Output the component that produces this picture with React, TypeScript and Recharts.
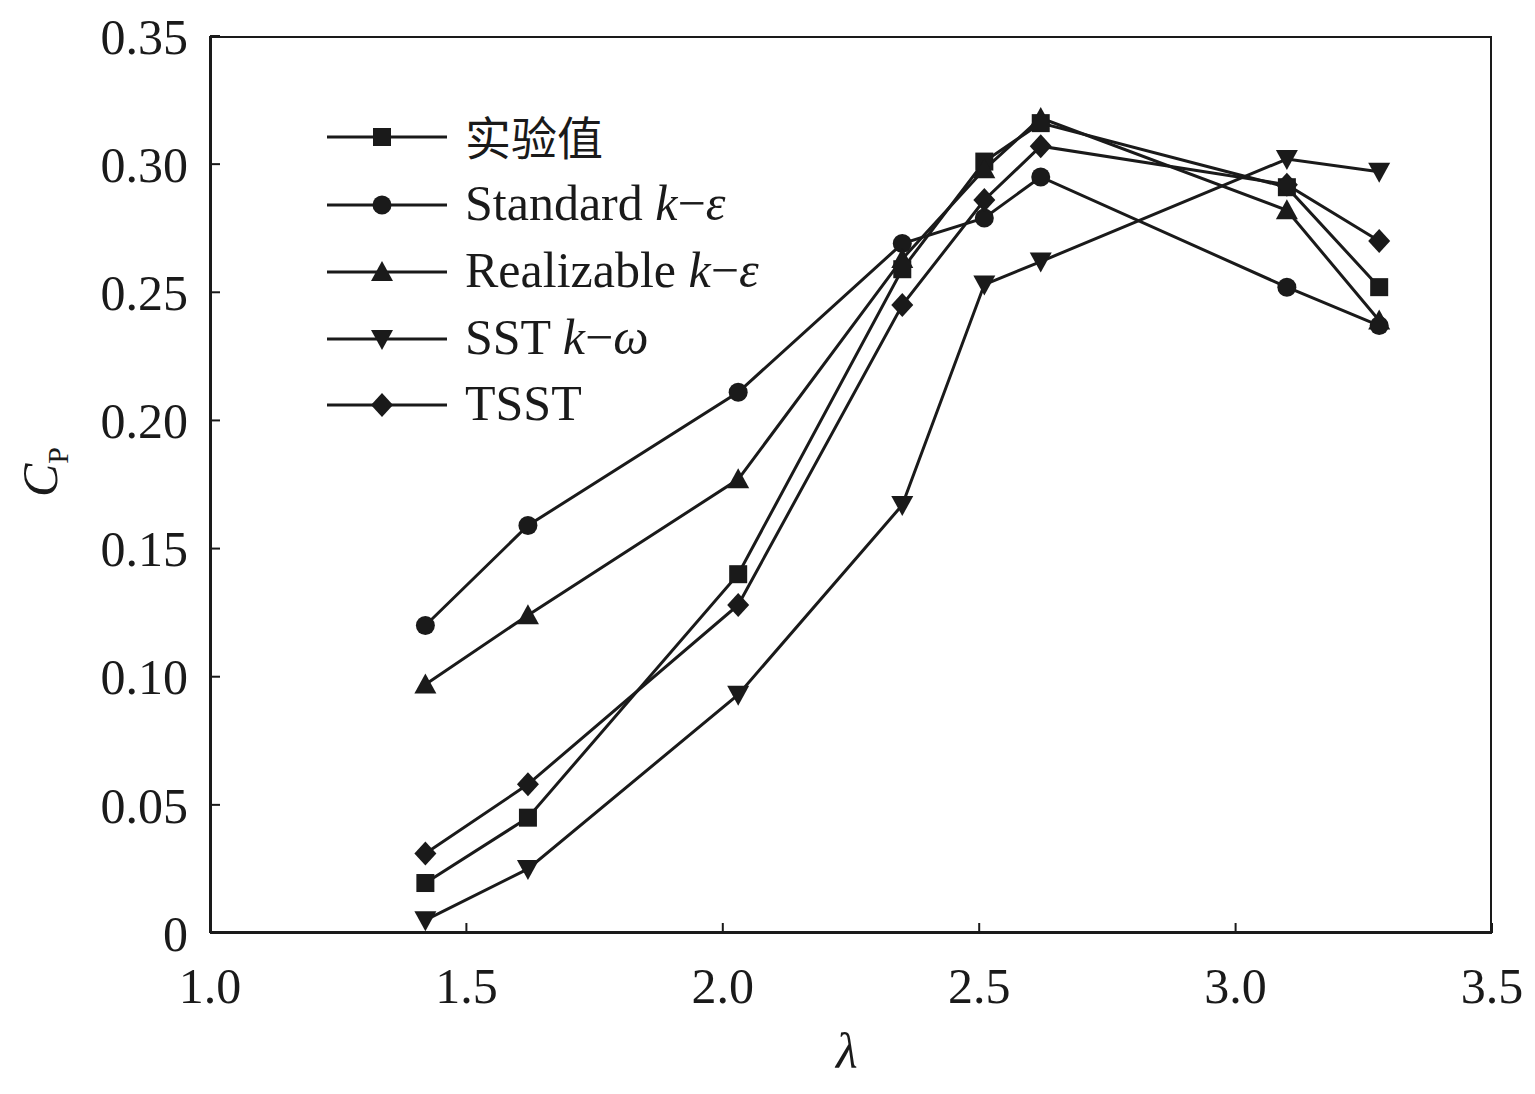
import React from 'react';
import { LineChart, Line, XAxis, YAxis } from 'recharts';

const lambdas = [1.42, 1.62, 2.03, 2.35, 2.51, 2.62, 3.1, 3.28];
const experiment = [0.0195, 0.045, 0.14, 0.259, 0.301, 0.316, 0.291, 0.252];
const standardKE = [0.12, 0.159, 0.211, 0.269, 0.279, 0.295, 0.252, 0.237];
const realizableKE = [0.097, 0.124, 0.177, 0.263, 0.298, 0.318, 0.282, 0.239];
const sstKW = [0.005, 0.025, 0.093, 0.167, 0.253, 0.262, 0.302, 0.297];
const tsst = [0.031, 0.058, 0.128, 0.245, 0.286, 0.307, 0.292, 0.27];
const xTicks = [1.0, 1.5, 2.0, 2.5, 3.0, 3.5];
const yTicks = [0, 0.05, 0.1, 0.15, 0.2, 0.25, 0.3, 0.35];

const data = lambdas.map((l, i) => ({
  l,
  exp: experiment[i],
  std: standardKE[i],
  rea: realizableKE[i],
  sst: sstKW[i],
  tsst: tsst[i],
}));

const C = '#1a1a1a';
const font = '"Liberation Serif", "Times New Roman", serif';

type Shape = 'square' | 'circle' | 'up' | 'down' | 'diamond';

const marker = (shape: Shape, cx: number, cy: number, key?: any) => {
  switch (shape) {
    case 'square':
      return <rect key={key} x={cx - 9} y={cy - 9} width={18} height={18} fill={C} />;
    case 'circle':
      return <circle key={key} cx={cx} cy={cy} r={9.5} fill={C} />;
    case 'up':
      return <polygon key={key} points={`${cx},${cy - 11} ${cx - 11},${cy + 9} ${cx + 11},${cy + 9}`} fill={C} />;
    case 'down':
      return <polygon key={key} points={`${cx},${cy + 11} ${cx - 11},${cy - 9} ${cx + 11},${cy - 9}`} fill={C} />;
    default:
      return <polygon key={key} points={`${cx},${cy - 12} ${cx + 11},${cy} ${cx},${cy + 12} ${cx - 11},${cy}`} fill={C} />;
  }
};

const Dot = (shape: Shape) => (props: any) => marker(shape, props.cx, props.cy, props.index);

const series: { key: string; shape: Shape; label: React.ReactNode }[] = [
  { key: 'exp', shape: 'square', label: <span style={{ fontFamily: '"Noto Sans CJK SC"', fontSize: 46 }}>实验值</span> },
  { key: 'std', shape: 'circle', label: <>Standard <i>k</i>−<i>ε</i></> },
  { key: 'rea', shape: 'up', label: <>Realizable <i>k</i>−<i>ε</i></> },
  { key: 'sst', shape: 'down', label: <>SST <i>k</i>−<i>ω</i></> },
  { key: 'tsst', shape: 'diamond', label: <>TSST</> },
];

const legendY = [137, 205, 272, 339, 405];

export default function App() {
  return (
    <div style={{ position: 'absolute', left: 0, top: 0, width: 1535, height: 1094, background: '#fff', fontFamily: font }}>
      <LineChart width={1535} height={1094} data={data} margin={{ top: 36, right: 43, left: 110, bottom: 101 }}>
        <XAxis
          dataKey="l"
          type="number"
          domain={[1, 3.5]}
          ticks={xTicks}
          tickFormatter={(v: number) => v.toFixed(1)}
          height={60}
          stroke={C}
          strokeWidth={2}
          tickSize={-10}
          tickMargin={44}
          tick={{ fill: C, fontSize: 50, fontFamily: font }}
        />
        <YAxis
          type="number"
          domain={[0, 0.35]}
          ticks={yTicks}
          tickFormatter={(v: number) => (v === 0 ? '0' : v.toFixed(2))}
          width={100}
          stroke={C}
          strokeWidth={2}
          tickSize={-10}
          tickMargin={32}
          tick={{ fill: C, fontSize: 50, fontFamily: font }}
        />
        {series.map((s) => (
          <Line
            key={s.key}
            dataKey={s.key}
            stroke={C}
            strokeWidth={3}
            dot={Dot(s.shape)}
            isAnimationActive={false}
          />
        ))}
      </LineChart>
      <div style={{ position: 'absolute', left: 210, top: 36, width: 1282, height: 897, border: `2px solid ${C}`, boxSizing: 'border-box', pointerEvents: 'none' }} />
      <svg style={{ position: 'absolute', left: 0, top: 0 }} width={1535} height={1094}>
        {series.map((s, i) => (
          <g key={s.key}>
            <line x1={327} x2={447} y1={legendY[i]} y2={legendY[i]} stroke={C} strokeWidth={3} />
            {marker(s.shape, 382, legendY[i])}
          </g>
        ))}
      </svg>
      {series.map((s, i) => (
        <div key={s.key} style={{ position: 'absolute', left: 465, top: legendY[i] - 32, fontSize: 50, lineHeight: '60px', color: C, whiteSpace: 'nowrap' }}>
          {s.label}
        </div>
      ))}
      <div style={{ position: 'absolute', left: 18, top: 440, fontSize: 50, color: C, transform: 'rotate(-90deg)', transformOrigin: 'center', whiteSpace: 'nowrap' }}>
        <i>C</i><sub style={{ fontSize: 30 }}>P</sub>
      </div>
      <div style={{ position: 'absolute', left: 836, top: 1022, fontSize: 50, color: C }}>
        <i>λ</i>
      </div>
    </div>
  );
}
